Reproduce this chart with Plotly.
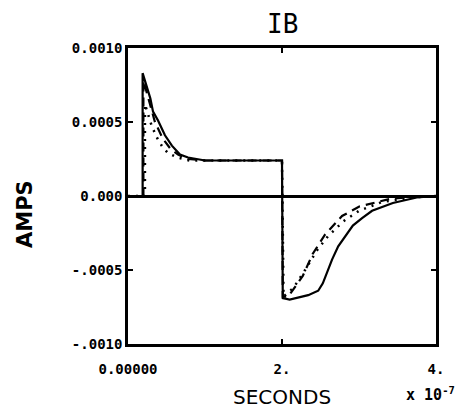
import plotly.graph_objects as go

# time in units of 1e-7 s, current in amps
t_solid = [0.0, 0.19, 0.19, 0.29, 0.325, 0.39, 0.48, 0.57, 0.675, 0.78, 1.0, 1.4, 1.8, 2.0,
           2.01, 2.10, 2.34, 2.47, 2.53, 2.58, 2.65, 2.73, 2.82, 2.92, 3.04, 3.17, 3.44, 3.75, 4.0]
i_solid = [0.0, 0.0, 0.00083, 0.00066, 0.00057, 0.00051, 0.00041, 0.00034, 0.00028, 0.00026,
           0.00024, 0.00024, 0.00024, 0.00024,
           -0.00069, -0.00070, -0.00067, -0.00064, -0.00059, -0.00052, -0.00043, -0.00034,
           -0.00027, -0.00020, -0.00015, -0.00010, -0.000047, -0.00001, 0.0]

t_dash = [0.0, 0.20, 0.20, 0.28, 0.35, 0.45, 0.55, 0.65, 0.78, 1.0, 1.5, 2.0,
          2.01, 2.08, 2.27, 2.40, 2.56, 2.78, 3.01, 3.40, 3.80, 4.0]
i_dash = [0.0, 0.0, 0.00078, 0.00062, 0.00050, 0.00039, 0.00032, 0.00028, 0.00025, 0.00024,
          0.00024, 0.00024,
          -0.00068, -0.00068, -0.00054, -0.00039, -0.00026, -0.000135, -0.00007, -0.00002, 0.0, 0.0]

t_dot = [0.0, 0.22, 0.22, 0.31, 0.39, 0.45, 0.52, 0.64, 0.80, 1.0, 1.5, 2.0,
         2.02, 2.15, 2.30, 2.45, 2.60, 2.80, 3.00, 3.30, 3.70, 4.0]
i_dot = [0.0, 0.0, 0.00062, 0.00047, 0.00038, 0.00033, 0.00029, 0.00026, 0.00024, 0.00024,
         0.00024, 0.00024,
         -0.00068, -0.00062, -0.00050, -0.00037, -0.00027, -0.00017, -0.00010, -0.00004,
         -0.00001, 0.0]

x_ticks = [0, 2, 4]
x_tick_text = ["0.00000", "2.", "4."]
y_ticks = [0.001, 0.0005, 0.0, -0.0005, -0.001]
y_tick_text = ["0.0010", "0.0005", "0.000", "-.0005", "-.0010"]

fig = go.Figure()
fig.add_trace(go.Scatter(x=t_dot, y=i_dot, mode="lines",
                         line=dict(color="black", width=2.5, dash="2px,6px")))
fig.add_trace(go.Scatter(x=t_dash, y=i_dash, mode="lines",
                         line=dict(color="black", width=2.2, dash="9px,6px")))
fig.add_trace(go.Scatter(x=t_solid, y=i_solid, mode="lines",
                         line=dict(color="black", width=2.2)))

tick_font = dict(family="DejaVu Sans Mono", size=14, color="black", weight="bold")

fig.update_layout(
    width=468, height=416,
    margin=dict(l=128, r=32, t=48, b=72),
    paper_bgcolor="white", plot_bgcolor="white",
    showlegend=False,
    xaxis=dict(range=[0, 4], tickvals=x_ticks, ticktext=x_tick_text,
               showgrid=False, zeroline=False, showline=True, linecolor="black",
               linewidth=2.5, mirror="ticks", ticks="inside", ticklen=5,
               tickwidth=2, tickcolor="black", tickfont=tick_font,
               ticklabelstandoff=10),
    yaxis=dict(range=[-0.001, 0.001], tickvals=y_ticks, ticktext=y_tick_text,
               showgrid=False, zeroline=True, zerolinecolor="black", zerolinewidth=2.5,
               showline=True, linecolor="black", linewidth=2.5, mirror="ticks",
               ticks="inside", ticklen=5, tickwidth=2, tickcolor="black",
               tickfont=tick_font),
)

fig.add_annotation(text="IB", xref="paper", yref="paper", x=0.5, y=1.0, yshift=24,
                   showarrow=False, xanchor="center", yanchor="middle",
                   font=dict(family="DejaVu Sans Mono", size=26, color="black"))
fig.add_annotation(text="SECONDS", xref="paper", yref="paper", x=0.5, y=0, yshift=-53,
                   showarrow=False, xanchor="center", yanchor="middle",
                   font=dict(family="DejaVu Sans", size=20, color="black"))
fig.add_annotation(text="x 10<sup>-7</sup>", xref="paper", yref="paper", x=1.0, y=0,
                   xshift=21, yshift=-50, showarrow=False, xanchor="right", yanchor="middle",
                   font=dict(family="DejaVu Sans Mono", size=15, color="black", weight="bold"))
fig.add_annotation(text="AMPS", xref="paper", yref="paper", x=0, y=0.5, xshift=-103,
                   yshift=-18, showarrow=False, textangle=-90, xanchor="center",
                   yanchor="middle",
                   font=dict(family="DejaVu Sans", size=21, color="black", weight="bold"))

fig.write_html("out.html")
